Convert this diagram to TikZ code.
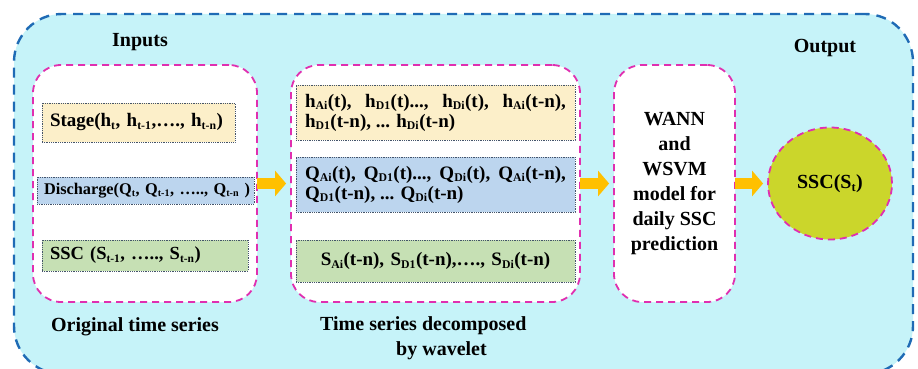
\documentclass[tikz,border=0pt]{standalone}
\usepackage{fontspec}
\setmainfont{Liberation Serif}
\usetikzlibrary{arrows.meta, shapes.geometric}

\definecolor{skyfill}{HTML}{C6F3F9}
\definecolor{frameblue}{HTML}{1F6BB5}
\definecolor{pinkdash}{HTML}{E02FB0}
\definecolor{stagefill}{HTML}{FCEFC9}
\definecolor{qfill}{HTML}{BCD5EE}
\definecolor{sfill}{HTML}{C6E0B4}
\definecolor{dotgray}{HTML}{44546A}
\definecolor{arrowfill}{HTML}{FFC000}
\definecolor{ballfill}{HTML}{CBD62B}

\renewcommand{\defaultscriptratio}{.62}
\newcommand{\sbs}[1]{\textsubscript{#1}}

\begin{document}
\begin{tikzpicture}[x=1pt, y=-1pt, font=\rmfamily\bfseries\fontsize{20}{22}\selectfont,
  outer/.style={draw=frameblue, fill=skyfill, line width=2.4pt, dash pattern=on 10pt off 7pt,
    rounded corners=48pt, minimum width=899pt, minimum height=360pt, inner sep=0pt},
  group/.style={draw=pinkdash, fill=white, line width=1.8pt, dash pattern=on 7pt off 5pt,
    rounded corners=28pt, minimum height=237pt, inner sep=0pt},
  series/.style={draw=dotgray, densely dotted, line width=0.8pt, inner xsep=8pt, inner ysep=0pt,
    align=left, font=\rmfamily\bfseries\fontsize{19}{20}\selectfont},
  ball/.style={ellipse, draw=pinkdash, fill=ballfill, line width=1.8pt, dash pattern=on 7pt off 5pt,
    minimum width=124pt, minimum height=112pt, inner sep=0pt},
  flow/.style={draw=arrowfill, line width=11pt, -{Triangle[length=11pt, width=25pt]},
    shorten <=-1pt, shorten >=4pt},
  caption/.style={inner sep=0pt}
]
  \useasboundingbox (0,0) rectangle (918,369);
  % ===== background frame =====
  \node[outer] (frame) at (463.5,194) {};
  \node[caption] (inlabel) at (140,42) {Inputs};
  \node[caption] (outlabel) at (825,48) {Output};

  % ===== dashed groups =====
  \node[group, minimum width=224pt] (orig) at (145,183.5) {};
  \node[group, minimum width=289pt] (decomp) at (435.5,183.5) {};
  \node[group, minimum width=121pt, align=center, font=\rmfamily\bfseries\fontsize{20}{25}\selectfont]
    (model) at (674.5,183.5) {WANN\\and\\WSVM\\model for\\daily SSC\\prediction};
  \node[ball] (ssc) at (830,183.5) {SSC(S\sbs{t})};

  % ===== original series =====
  \node[series, fill=stagefill, text width=177pt, minimum height=39pt] (stage) at (138.5,122.5)
    {\mbox{Stage(h\sbs{t}, h\sbs{t-1},…., h\sbs{t-n})}};
  \node[series, fill=qfill, text width=203pt, inner xsep=7pt, minimum height=27pt,
    font=\rmfamily\bfseries\fontsize{16.3}{20}\selectfont] (disch) at (145.5,190.5)
    {\mbox{Discharge(Q\sbs{t}, Q\sbs{t-1}, ….., Q\sbs{t-n} )}};
  \node[series, fill=sfill, text width=190pt, minimum height=31pt,
    font=\rmfamily\bfseries\fontsize{18.5}{20}\selectfont] (sscin) at (145,255.5)
    {\mbox{SSC (S\sbs{t-1}, ….., S\sbs{t-n})}};
  \node[caption] (origlabel) at (135,327) {Original time series};

  % ===== decomposed series =====
  \node[series, fill=stagefill, text width=261pt, inner xsep=9pt, minimum height=55pt, align=justify]
    (hdec) at (435.5,112.5)
    {h\sbs{Ai}(t), h\sbs{D1}(t)..., h\sbs{Di}(t), h\sbs{Ai}(t-n), h\sbs{D1}(t-n), ... h\sbs{Di}(t-n)};
  \node[series, fill=qfill, text width=261pt, inner xsep=9pt, minimum height=55pt, align=justify]
    (qdec) at (435.5,184.5)
    {Q\sbs{Ai}(t), Q\sbs{D1}(t)..., Q\sbs{Di}(t), Q\sbs{Ai}(t-n), Q\sbs{D1}(t-n), ... Q\sbs{Di}(t-n)};
  \node[series, fill=sfill, text width=261pt, inner xsep=9pt, minimum height=42pt, align=center]
    (sdec) at (435.5,261)
    {S\sbs{Ai}(t-n), S\sbs{D1}(t-n),…., S\sbs{Di}(t-n)};
  \node[caption, anchor=north west, align=left, font=\rmfamily\bfseries\fontsize{20}{25}\selectfont]
    (declabel) at (320,316) {Time series decomposed\\\hspace*{3.8em}by wavelet};

  % ===== flow arrows =====
  \draw[flow] (orig.east) -- (decomp.west);
  \draw[flow] (decomp.east) -- (model.west);
  \draw[flow] (model.east) -- (ssc.west);
\end{tikzpicture}
\end{document}
